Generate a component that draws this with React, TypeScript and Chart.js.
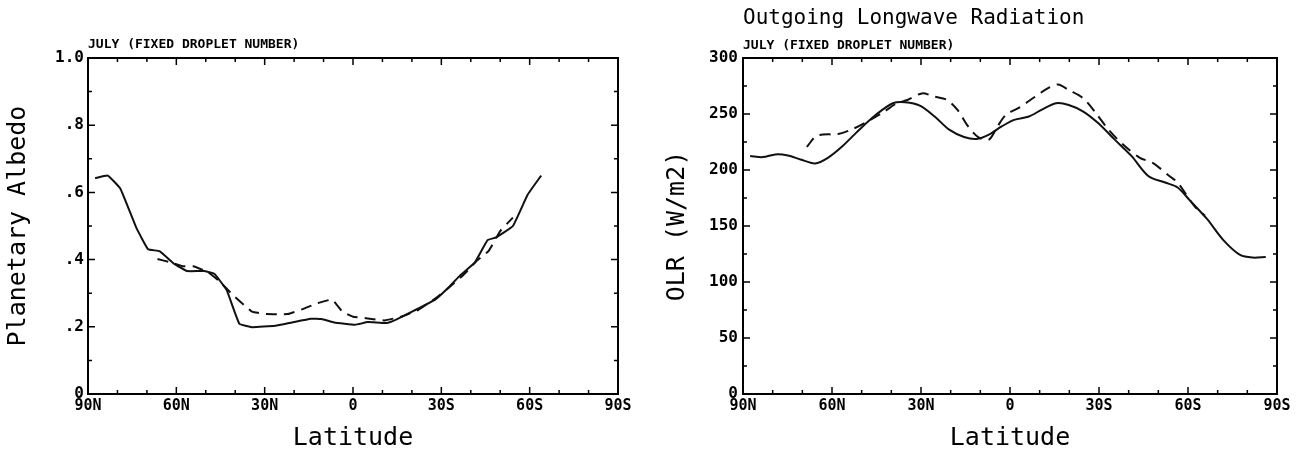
import React, { useEffect, useRef } from 'react';
import { Chart, registerables } from 'chart.js';

Chart.register(...registerables);

const FONT = "'DejaVu Sans Mono', monospace";

// Latitude axis (N positive, S negative)
const latTickValues = [90, 60, 30, 0, -30, -60, -90];
const latTickLabels = ['90N', '60N', '30N', '0', '30S', '60S', '90S'];

// Albedo axis tick labels
const albedoTickValues = [0, 0.2, 0.4, 0.6, 0.8, 1.0];
const albedoTickLabels = ['0', '.2', '.4', '.6', '.8', '1.0'];

// OLR axis tick labels
const olrTickValues = [0, 50, 100, 150, 200, 250, 300];
const olrTickLabels = ['0', '50', '100', '150', '200', '250', '300'];

// Planetary albedo — solid
const albedoLatSolid = [87.6, 83.3, 79, 73.6, 69.6, 65.7, 60.7, 56.4, 50.7, 47.1, 42.9, 38.6, 34.3, 26.4, 20.7, 14.3, 10.7, 6.4, -0.7, -5, -11.4, -15, -20.7, -27.9, -32.1, -36.4, -41.4, -45.7, -48.6, -54.3, -59.3, -63.9];
const albedoSolid = [0.642, 0.65, 0.611, 0.495, 0.431, 0.425, 0.387, 0.366, 0.366, 0.358, 0.309, 0.209, 0.199, 0.203, 0.213, 0.224, 0.223, 0.213, 0.206, 0.214, 0.211, 0.223, 0.248, 0.281, 0.314, 0.353, 0.392, 0.458, 0.466, 0.5, 0.593, 0.65];

// Planetary albedo — dashed
const albedoLatDashed = [66.4, 62.1, 57.9, 54.3, 49.3, 45.7, 40.7, 34.3, 29.3, 22.1, 16.4, 12.1, 7.1, 3.6, 0, -5, -10.7, -16.4, -22.1, -27.9, -32.9, -37.9, -42.1, -46.1, -50, -54.3];
const albedoDashed = [0.402, 0.392, 0.38, 0.38, 0.363, 0.338, 0.294, 0.245, 0.238, 0.238, 0.255, 0.27, 0.281, 0.245, 0.23, 0.225, 0.219, 0.23, 0.25, 0.284, 0.319, 0.358, 0.397, 0.426, 0.485, 0.525];

// OLR — solid
const olrLatSolid = [87.6, 83.3, 79.1, 74.9, 70.6, 65.7, 61.4, 56.5, 50.8, 45.2, 39.5, 35.3, 30.4, 25.4, 20.5, 15.5, 11.3, 7.1, 2.8, -1.4, -6.4, -10.6, -15.5, -19.8, -24.7, -29.7, -35.3, -41, -46.6, -52.3, -56.5, -60.7, -66.4, -72, -77.7, -81.9, -86.2];
const olrSolid = [212.4, 211.5, 213.9, 213, 209.4, 205.9, 210.9, 221.2, 236, 249.3, 259.6, 260.5, 257.5, 247.8, 236, 229.5, 227.7, 231.6, 238.9, 244.8, 247.8, 253.7, 259.6, 258.1, 252.2, 241.9, 227.1, 212.4, 194.7, 188.8, 184.4, 172.6, 156.3, 137.2, 123.9, 121.8, 122.4];

// OLR — dashed
const olrLatDashed = [68.5, 65, 57.9, 53, 48, 42.4, 38.1, 34.6, 29.7, 25.4, 21.2, 17.7, 14.1, 10.6, 7.1, 4.2, 1.4, -2.8, -8.5, -12.7, -16.2, -19.8, -24.7, -29, -33.2, -38.1, -43.8, -48, -53.7, -56.5, -62.1, -65.7];
const olrDashed = [220.6, 230.7, 232.2, 236.6, 243.4, 252.2, 259.6, 262.5, 268.4, 265.5, 262.5, 253.7, 238.9, 229.2, 227.1, 238.9, 249.3, 255.2, 265.5, 272.9, 276.4, 271.4, 264, 250.7, 236, 222.7, 210.9, 206.5, 194.7, 188.8, 168, 159.3];

const CANVAS_W = 651;
const CANVAS_H = 455;

type PanelCfg = {
  left: number;
  areaLeft: number;
  areaRight: number;
  areaBottom: number;
  title?: string;
  titlePadding?: { top: number; bottom: number };
  subtitle: string;
  subtitlePadding: { top: number; bottom: number };
  yTitle: string;
  yTitlePad: number;
  yMin: number;
  yMax: number;
  yMinor: number;
  yMajor: number;
  yTickValues: number[];
  yTickLabels: string[];
  yTickPad: number;
  solidLat: number[];
  solidVal: number[];
  dashedLat: number[];
  dashedVal: number[];
  tension: number;
};

function framePlugin(cfg: PanelCfg) {
  return {
    id: 'frameTicks',
    afterDatasetsDraw(chart: any) {
      const { ctx, chartArea: a, scales } = chart;
      const xs = scales.x;
      const ys = scales.y;
      ctx.save();
      ctx.strokeStyle = '#000';
      ctx.lineWidth = 2;
      ctx.strokeRect(a.left, a.top, a.right - a.left, a.bottom - a.top);
      ctx.lineWidth = 1.5;
      ctx.beginPath();
      for (let v = -90; v <= 90; v += 10) {
        const px = xs.getPixelForValue(v);
        const len = v % 30 === 0 ? 7 : 4;
        ctx.moveTo(px, a.bottom);
        ctx.lineTo(px, a.bottom - len);
        ctx.moveTo(px, a.top);
        ctx.lineTo(px, a.top + len);
      }
      const n = Math.round((cfg.yMax - cfg.yMin) / cfg.yMinor);
      const every = Math.round(cfg.yMajor / cfg.yMinor);
      for (let i = 0; i <= n; i++) {
        const v = cfg.yMin + i * cfg.yMinor;
        const py = ys.getPixelForValue(v);
        const len = i % every === 0 ? 7 : 4;
        ctx.moveTo(a.left, py);
        ctx.lineTo(a.left + len, py);
        ctx.moveTo(a.right, py);
        ctx.lineTo(a.right - len, py);
      }
      ctx.stroke();
      ctx.restore();
    },
  };
}

function Panel({ cfg }: { cfg: PanelCfg }) {
  const ref = useRef<HTMLCanvasElement | null>(null);
  useEffect(() => {
    if (!ref.current) return;
    const chart = new Chart(ref.current, {
      type: 'line',
      data: {
        datasets: [
          {
            label: 'solid',
            data: cfg.solidLat.map((x, i) => ({ x, y: cfg.solidVal[i] })),
            borderColor: '#111',
            borderWidth: 2,
            pointRadius: 0,
            tension: cfg.tension,
            fill: false,
          },
          {
            label: 'dashed',
            data: cfg.dashedLat.map((x, i) => ({ x, y: cfg.dashedVal[i] })),
            borderColor: '#111',
            borderWidth: 2,
            borderDash: [11, 7],
            pointRadius: 0,
            tension: cfg.tension,
            fill: false,
          },
        ],
      },
      options: {
        animation: false,
        responsive: false,
        maintainAspectRatio: false,
        events: [],
        layout: { padding: { left: 0, right: CANVAS_W - cfg.areaRight, top: 0, bottom: 0 } },
        plugins: {
          legend: { display: false },
          tooltip: { enabled: false },
          title: {
            display: !!cfg.title,
            text: cfg.title || '',
            align: 'start',
            fullSize: false,
            color: '#000',
            font: { family: FONT, size: 21, weight: 'normal' },
            padding: cfg.titlePadding || { top: 0, bottom: 0 },
          },
          subtitle: {
            display: true,
            text: cfg.subtitle,
            align: 'start',
            fullSize: false,
            color: '#000',
            font: { family: FONT, size: 13, weight: 'bold' },
            padding: cfg.subtitlePadding,
          },
        },
        scales: {
          x: {
            type: 'linear',
            reverse: true,
            min: -90,
            max: 90,
            afterBuildTicks: (s: any) => {
              s.ticks = latTickValues.map((v) => ({ value: v }));
            },
            afterFit: (s: any) => {
              s.height = CANVAS_H - cfg.areaBottom;
            },
            ticks: {
              autoSkip: false,
              maxRotation: 0,
              padding: 3,
              color: '#000',
              font: { family: FONT, size: 15, weight: 'bold' },
              callback: (v: any) => {
                const i = latTickValues.indexOf(Number(v));
                return i >= 0 ? latTickLabels[i] : '';
              },
            },
            grid: { display: false, drawTicks: false },
            border: { display: false },
            title: {
              display: true,
              text: 'Latitude',
              color: '#000',
              font: { family: FONT, size: 25, weight: 'normal' },
              padding: { top: 0, bottom: 2 },
            },
          },
          y: {
            type: 'linear',
            min: cfg.yMin,
            max: cfg.yMax,
            afterBuildTicks: (s: any) => {
              s.ticks = cfg.yTickValues.map((v) => ({ value: v }));
            },
            afterFit: (s: any) => {
              s.width = cfg.areaLeft;
            },
            ticks: {
              autoSkip: false,
              padding: cfg.yTickPad,
              color: '#000',
              font: { family: FONT, size: 16, weight: 'bold' },
              callback: (v: any) => {
                const i = cfg.yTickValues.findIndex((t) => Math.abs(t - Number(v)) < 1e-9);
                return i >= 0 ? cfg.yTickLabels[i] : '';
              },
            },
            grid: { display: false, drawTicks: false },
            border: { display: false },
            title: {
              display: true,
              text: cfg.yTitle,
              color: '#000',
              font: { family: FONT, size: 25, weight: 'normal' },
              padding: { top: cfg.yTitlePad, bottom: 0 },
            },
          },
        },
      } as any,
      plugins: [framePlugin(cfg)],
    });
    return () => chart.destroy();
  }, [cfg]);
  return (
    <canvas
      ref={ref}
      width={CANVAS_W}
      height={CANVAS_H}
      style={{ position: 'absolute', left: cfg.left, top: 0, width: CANVAS_W, height: CANVAS_H }}
    />
  );
}

const albedoCfg: PanelCfg = {
  left: 0,
  areaLeft: 88,
  areaRight: 618,
  areaBottom: 394,
  subtitle: 'JULY (FIXED DROPLET NUMBER)',
  subtitlePadding: { top: 37.2, bottom: 5.2 },
  yTitle: 'Planetary Albedo',
  yTitlePad: 3,
  yMin: 0,
  yMax: 1,
  yMinor: 0.1,
  yMajor: 0.2,
  yTickValues: albedoTickValues,
  yTickLabels: albedoTickLabels,
  yTickPad: 4,
  solidLat: albedoLatSolid,
  solidVal: albedoSolid,
  dashedLat: albedoLatDashed,
  dashedVal: albedoDashed,
  tension: 0.1,
};

const olrCfg: PanelCfg = {
  left: 651,
  areaLeft: 92,
  areaRight: 626,
  areaBottom: 394,
  title: 'Outgoing Longwave Radiation',
  titlePadding: { top: 6.4, bottom: 0 },
  subtitle: 'JULY (FIXED DROPLET NUMBER)',
  subtitlePadding: { top: 6.6, bottom: 4.2 },
  yTitle: 'OLR (W/m2)',
  yTitlePad: 11,
  yMin: 0,
  yMax: 300,
  yMinor: 25,
  yMajor: 50,
  yTickValues: olrTickValues,
  yTickLabels: olrTickLabels,
  yTickPad: 5,
  solidLat: olrLatSolid,
  solidVal: olrSolid,
  dashedLat: olrLatDashed,
  dashedVal: olrDashed,
  tension: 0.3,
};

export default function App() {
  return (
    <div style={{ position: 'fixed', left: 0, top: 0, width: 1302, height: 455, background: '#fff' }}>
      <Panel cfg={albedoCfg} />
      <Panel cfg={olrCfg} />
    </div>
  );
}
